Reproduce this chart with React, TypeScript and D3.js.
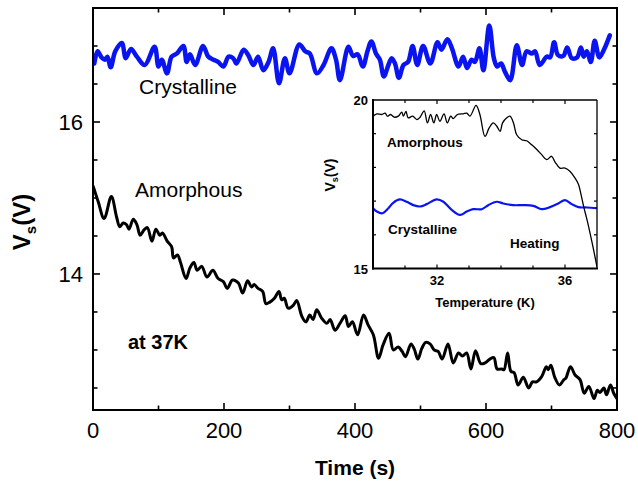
import React from 'react';
import * as d3 from 'd3';

const W = 638;
const H = 483;
const FONT = '"Liberation Sans", Arial, Helvetica, sans-serif';

// Main panel: Vs versus time at 37 K
const crystTime = [2, 7, 13, 18, 22, 27, 34, 44, 50, 58, 67, 79, 94, 100, 105, 113, 120, 128, 138, 143, 148, 156, 168, 176, 184, 191, 199, 207, 214, 219, 230, 237, 245, 252, 260, 268, 275, 284, 293, 300, 315, 324, 331, 342, 352, 364, 371, 377, 390, 397, 404, 412, 419, 425, 432, 438, 444, 451, 456, 461, 467, 474, 481, 488, 495, 504, 515, 526, 532, 541, 548, 558, 565, 571, 578, 583, 590, 596, 605, 612, 617, 623, 629, 637, 647, 655, 662, 670, 675, 682, 693, 698, 704, 710, 718, 724, 731, 739, 745, 749, 754, 760, 766, 773, 780, 789];
const crystVs = [16.77, 16.93, 16.85, 16.82, 16.86, 16.72, 16.93, 17.04, 16.84, 16.96, 16.86, 16.75, 16.99, 16.73, 16.82, 16.64, 16.86, 16.9, 17.0, 16.79, 16.89, 16.75, 17.0, 16.86, 16.82, 16.79, 16.73, 16.86, 16.84, 16.77, 16.95, 16.88, 16.75, 16.86, 16.68, 16.79, 16.97, 16.51, 16.84, 16.64, 17.02, 16.93, 16.9, 16.64, 16.75, 16.97, 16.82, 16.55, 16.99, 16.87, 16.89, 16.73, 16.93, 17.06, 16.9, 16.82, 16.6, 16.75, 16.84, 16.77, 16.58, 16.75, 16.79, 17.0, 16.75, 17.0, 16.77, 17.05, 16.95, 17.09, 16.97, 16.73, 16.86, 16.71, 16.82, 16.79, 16.97, 16.68, 17.27, 16.84, 16.73, 16.77, 16.66, 16.55, 17.01, 16.75, 16.93, 16.9, 16.93, 16.75, 16.86, 16.85, 17.05, 16.88, 16.87, 16.98, 16.84, 16.85, 16.98, 16.86, 16.93, 16.79, 17.07, 16.85, 16.95, 17.14];

const amorTime = [0.5, 8, 17, 28, 36, 41, 46, 51, 55, 61.5, 67, 72, 78, 83, 90, 96, 102, 106, 113.5, 120, 123, 129, 134, 142, 148, 154, 159, 166, 174, 183, 191, 199, 205, 213, 222, 228.5, 236, 242, 246, 252, 259, 264, 270, 277, 284, 288, 292, 298, 306, 311, 319, 325, 331, 336, 341.5, 349, 357, 362, 369.5, 377, 385, 390, 396, 404, 413, 420, 428, 436, 443, 452, 458.5, 466, 472, 477, 485.5, 490.5, 496, 502, 508, 514.5, 521, 527, 533, 542, 550, 558, 564, 570.5, 577, 584, 592, 598.5, 606, 612, 617, 624, 627.5, 633, 638, 643, 649, 657, 665, 671, 677, 685, 692, 695, 699, 705, 712, 719, 722, 729, 736, 743.5, 750, 757, 765, 770, 774, 780, 784, 790, 795, 800];
const amorVs = [15.15, 14.95, 14.73, 15.02, 14.75, 14.62, 14.67, 14.65, 14.59, 14.72, 14.65, 14.51, 14.58, 14.61, 14.43, 14.59, 14.51, 14.54, 14.43, 14.36, 14.21, 14.25, 14.14, 13.94, 14.08, 14.15, 14.05, 14.1, 13.96, 14.05, 13.94, 13.9, 13.81, 13.92, 13.88, 13.75, 13.91, 13.83, 13.86, 13.81, 13.77, 13.61, 13.63, 13.68, 13.77, 13.66, 13.68, 13.55, 13.59, 13.65, 13.44, 13.37, 13.46, 13.4, 13.53, 13.42, 13.35, 13.4, 13.26, 13.35, 13.45, 13.31, 13.37, 13.2, 13.46, 13.33, 13.2, 12.89, 13.07, 13.22, 13.0, 13.04, 12.98, 12.91, 13.08, 13.01, 12.88, 13.02, 13.1, 13.08, 13.0, 12.98, 12.88, 13.08, 12.83, 12.96, 12.92, 12.96, 12.75, 12.99, 12.82, 12.83, 12.88, 12.9, 12.75, 12.75, 12.74, 12.96, 12.72, 12.7, 12.54, 12.64, 12.5, 12.58, 12.58, 12.65, 12.78, 12.74, 12.8, 12.64, 12.54, 12.61, 12.63, 12.78, 12.67, 12.61, 12.43, 12.52, 12.36, 12.47, 12.44, 12.5, 12.41, 12.54, 12.43, 12.36];

// Inset: Vs versus temperature on heating
const insetAmorT = [30.0, 30.12, 30.27, 30.38, 30.45, 30.55, 30.66, 30.79, 30.9, 30.95, 31.03, 31.1, 31.24, 31.37, 31.47, 31.6, 31.7, 31.8, 31.9, 31.99, 32.09, 32.22, 32.32, 32.43, 32.51, 32.64, 32.82, 32.93, 33.03, 33.22, 33.34, 33.5, 33.63, 33.76, 33.87, 33.97, 34.05, 34.18, 34.28, 34.39, 34.49, 34.65, 34.8, 34.96, 35.12, 35.27, 35.43, 35.58, 35.69, 35.84, 36.0, 36.16, 36.31, 36.42, 36.5, 36.58, 36.7, 36.85, 37.0];
const insetAmorV = [19.52, 19.59, 19.57, 19.61, 19.52, 19.57, 19.49, 19.52, 19.64, 19.52, 19.66, 19.47, 19.52, 19.42, 19.49, 19.68, 19.32, 19.57, 19.32, 19.57, 19.37, 19.59, 19.32, 19.52, 19.45, 19.57, 19.59, 19.61, 19.52, 19.84, 19.57, 18.92, 19.17, 19.32, 19.22, 19.07, 19.32, 19.47, 19.52, 19.32, 18.97, 18.82, 18.79, 18.67, 18.53, 18.38, 18.23, 18.33, 18.16, 17.98, 17.98, 17.88, 17.69, 17.5, 17.2, 16.85, 16.4, 15.75, 15.05];

const insetCrystT = [30.0, 30.12, 30.3, 30.48, 30.63, 30.84, 31.05, 31.26, 31.47, 31.68, 31.99, 32.2, 32.46, 32.72, 32.93, 33.13, 33.4, 33.6, 33.87, 34.07, 34.38, 34.7, 35.01, 35.27, 35.53, 35.79, 36.0, 36.21, 36.42, 36.68, 37.0];
const insetCrystV = [16.79, 16.69, 16.64, 16.79, 16.95, 17.05, 16.98, 16.88, 16.84, 16.91, 17.05, 16.98, 16.74, 16.59, 16.69, 16.76, 16.76, 16.88, 16.98, 16.93, 16.88, 16.88, 16.86, 16.76, 16.82, 16.93, 17.03, 16.91, 16.82, 16.81, 16.79];

// Axis ticks
const timeTicks = [0, 200, 400, 600, 800];
const timeMinor = [100, 300, 500, 700];
const vsTicks = [14, 16];
const vsMinor = [12.5, 13, 13.5, 14.5, 15, 15.5, 16.5, 17];
const tempTicks = [32, 36];
const tempMinor = [31, 33, 34, 35];
const insetVTicks = [15, 20];
const insetVMinor = [16, 17, 18, 19];

type Scale = d3.ScaleLinear<number, number>;

function linePath(xs: number[], ys: number[], sx: Scale, sy: Scale): string {
  const gen = d3
    .line<number>()
    .x((i) => sx(xs[i]))
    .y((i) => sy(ys[i]))
    .curve(d3.curveCatmullRom.alpha(0.5));
  return gen(xs.map((_, i) => i)) || '';
}

export default function App() {
  // main frame
  const L = 93, R = 617, T = 8, B = 410;
  const x = d3.scaleLinear().domain([0, 800]).range([L, R]);
  const y = d3.scaleLinear().domain([12.21, 17.5]).range([B, T]);

  // inset frame
  const iL = 373, iR = 597, iT = 100, iB = 268.5;
  const xi = d3.scaleLinear().domain([30, 37]).range([iL, iR]);
  const yi = d3.scaleLinear().domain([15, 20]).range([iB, iT]);

  const major = 7;
  const minor = 4.5;
  const iMajor = 4;
  const iMinor = 3;

  return (
    <svg
      width={W}
      height={H}
      viewBox={`0 0 ${W} ${H}`}
      style={{ position: 'absolute', left: 0, top: 0, background: '#fff' }}
      fontFamily={FONT}
    >
      <defs>
        <clipPath id="mainClip">
          <rect x={L} y={T} width={R - L} height={B - T} />
        </clipPath>
        <clipPath id="insetClip">
          <rect x={iL} y={iT - 2} width={iR - iL} height={iB - iT + 2} />
        </clipPath>
      </defs>
      <rect x={0} y={0} width={W} height={H} fill="#fff" />

      {/* main curves */}
      <g clipPath="url(#mainClip)" fill="none" strokeLinejoin="round" strokeLinecap="round">
        <path d={linePath(crystTime, crystVs, x, y)} stroke="#0a14f0" strokeWidth={4.5} />
        <path d={linePath(amorTime, amorVs, x, y)} stroke="#000" strokeWidth={3} />
      </g>

      {/* main ticks */}
      <g stroke="#000" strokeWidth={1.6}>
        {timeTicks.map((t) => (
          <g key={`tx${t}`}>
            <line x1={x(t)} x2={x(t)} y1={B} y2={B - major} />
            <line x1={x(t)} x2={x(t)} y1={T} y2={T + major} />
          </g>
        ))}
        {timeMinor.map((t) => (
          <g key={`mx${t}`}>
            <line x1={x(t)} x2={x(t)} y1={B} y2={B - minor} />
            <line x1={x(t)} x2={x(t)} y1={T} y2={T + minor} />
          </g>
        ))}
        {vsTicks.map((v) => (
          <g key={`ty${v}`}>
            <line x1={L} x2={L + major} y1={y(v)} y2={y(v)} />
            <line x1={R} x2={R - major} y1={y(v)} y2={y(v)} />
          </g>
        ))}
        {vsMinor.map((v) => (
          <g key={`my${v}`}>
            <line x1={L} x2={L + minor} y1={y(v)} y2={y(v)} />
            <line x1={R} x2={R - minor} y1={y(v)} y2={y(v)} />
          </g>
        ))}
      </g>
      <rect x={L} y={T} width={R - L} height={B - T} fill="none" stroke="#000" strokeWidth={2} />

      {/* main tick labels */}
      <g fontSize={22} fill="#000">
        {timeTicks.map((t) => (
          <text key={`lx${t}`} x={x(t)} y={438} textAnchor="middle">
            {t}
          </text>
        ))}
        {vsTicks.map((v) => (
          <text key={`ly${v}`} x={83} y={y(v) + 8} textAnchor="end">
            {v}
          </text>
        ))}
      </g>
      <text x={(L + R) / 2} y={475} textAnchor="middle" fontSize={21} fontWeight="bold">
        Time (s)
      </text>
      <text
        transform="translate(30,222) rotate(-90)"
        textAnchor="middle"
        fontSize={24}
        fontWeight="bold"
      >
        V<tspan fontSize={15} dy={6}>s</tspan>
        <tspan dy={-6}>(V)</tspan>
      </text>

      {/* main annotations */}
      <text x={139} y={94} fontSize={21}>Crystalline</text>
      <text x={135} y={197} fontSize={21}>Amorphous</text>
      <text x={128} y={349} fontSize={20} fontWeight="bold">at 37K</text>

      {/* inset */}
      <rect x={iL} y={iT} width={iR - iL} height={iB - iT} fill="#fff" />
      <g clipPath="url(#insetClip)" fill="none" strokeLinejoin="round">
        <path d={linePath(insetCrystT, insetCrystV, xi, yi)} stroke="#0a14f0" strokeWidth={2.2} />
        <path d={linePath(insetAmorT, insetAmorV, xi, yi)} stroke="#000" strokeWidth={1.3} />
      </g>
      <g stroke="#000" strokeWidth={1.2}>
        {tempTicks.map((t) => (
          <g key={`itx${t}`}>
            <line x1={xi(t)} x2={xi(t)} y1={iB} y2={iB - iMajor} />
            <line x1={xi(t)} x2={xi(t)} y1={iT} y2={iT + iMajor} />
          </g>
        ))}
        {tempMinor.map((t) => (
          <g key={`imx${t}`}>
            <line x1={xi(t)} x2={xi(t)} y1={iB} y2={iB - iMinor} />
            <line x1={xi(t)} x2={xi(t)} y1={iT} y2={iT + iMinor} />
          </g>
        ))}
        {insetVMinor.map((v) => (
          <g key={`imy${v}`}>
            <line x1={iL} x2={iL + iMinor} y1={yi(v)} y2={yi(v)} />
            <line x1={iR} x2={iR - iMinor} y1={yi(v)} y2={yi(v)} />
          </g>
        ))}
      </g>
      <g fill="none" stroke="#000">
        <line x1={iL} x2={iR} y1={iT} y2={iT} strokeWidth={1.3} />
        <line x1={iR} x2={iR} y1={iT} y2={iB} strokeWidth={1.3} />
        <line x1={iL} x2={iL} y1={iT - 1} y2={iB + 1} strokeWidth={2} />
        <line x1={iL - 1} x2={iR + 1} y1={iB} y2={iB} strokeWidth={2} />
      </g>
      <g fontSize={13} fontWeight="bold" fill="#000">
        {insetVTicks.map((v) => (
          <text key={`ily${v}`} x={368} y={yi(v) + 5} textAnchor="end">
            {v}
          </text>
        ))}
        {tempTicks.map((t) => (
          <text key={`ilx${t}`} x={xi(t)} y={285} textAnchor="middle">
            {t}
          </text>
        ))}
        <text x={(iL + iR) / 2} y={306.5} textAnchor="middle">Temperature (K)</text>
      </g>
      <text transform="translate(335,175) rotate(-90)" textAnchor="middle" fontSize={14} fontWeight="bold">
        V<tspan fontSize={9} dy={3}>s</tspan>
        <tspan dy={-3}>(V)</tspan>
      </text>
      <g fontSize={13.5} fontWeight="bold" fill="#000">
        <text x={387} y={147}>Amorphous</text>
        <text x={388} y={234}>Crystalline</text>
        <text x={510} y={248}>Heating</text>
      </g>
    </svg>
  );
}
